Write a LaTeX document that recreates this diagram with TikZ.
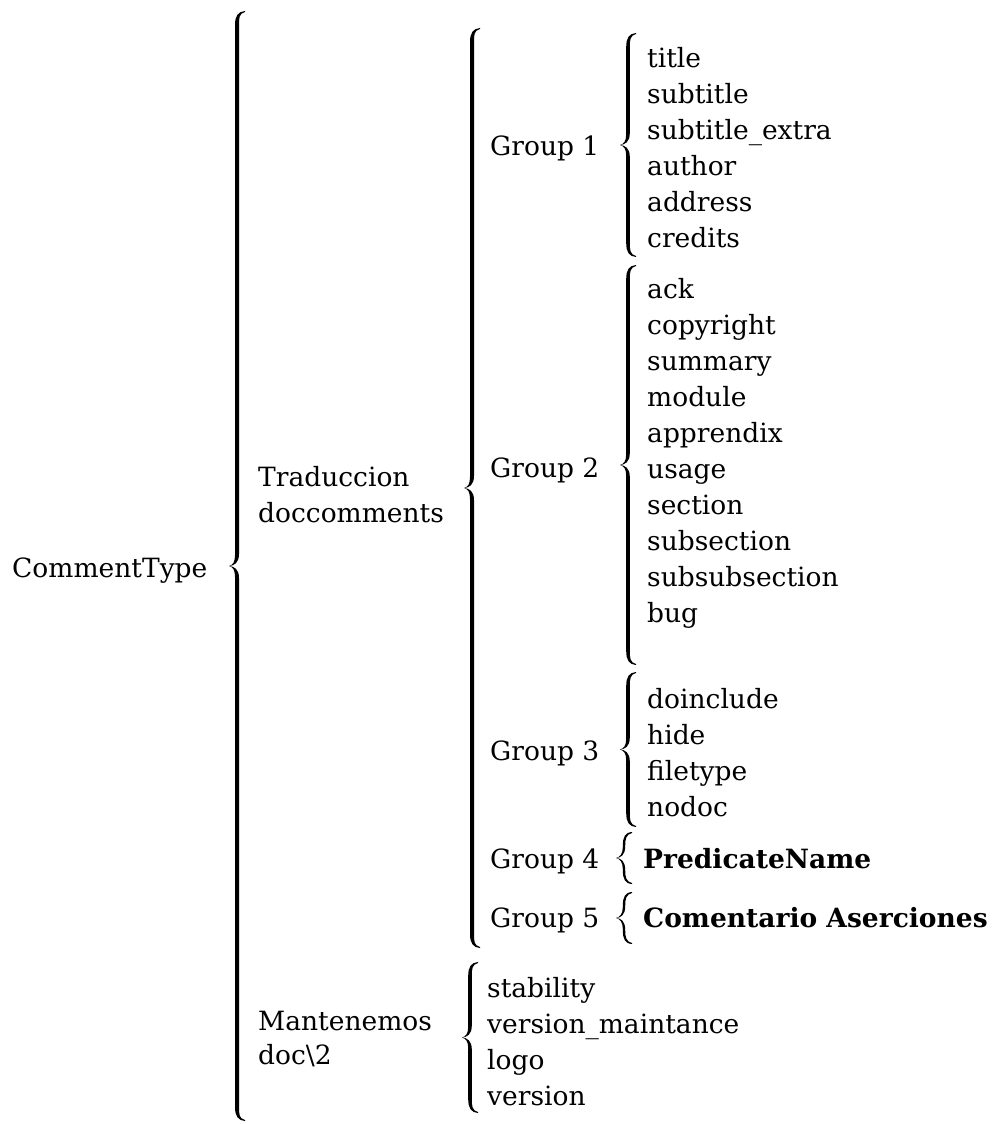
\documentclass[tikz,border=0pt]{standalone}
\usepackage{fontspec}
\setmainfont{DejaVu Serif}
\tikzset{
  lbl/.style={anchor=base west, inner sep=0pt, font=\fontsize{26.5}{36}\selectfont},
  strong/.style={lbl, font=\fontsize{26.5}{36}\selectfont\bfseries},
}
% filled curly brace: #1 name of its tip, #2 stem x, #3 top y, #4 bottom y, #5 half stem width
\newcommand\curly[5]{%
  \pgfmathsetmacro\hh{(#4-#3)/2}%
  \pgfmathsetmacro\mm{(#4+#3)/2}%
  \pgfmathsetmacro\kk{min(14,\hh-11)}%
  \begin{scope}[shift={(#2,\mm)}]
    \fill (8,-\hh) .. controls (1,-\hh+0.5) and (-#5,-\hh+5) .. (-#5,-\hh+\kk)
      -- (-#5,-11) .. controls (-#5,-4) and (-4,-1) .. (-8,0)
      .. controls (-4,1) and (-#5,4) .. (-#5,11)
      -- (-#5,\hh-\kk) .. controls (-#5,\hh-5) and (1,\hh-0.5) .. (8,\hh)
      -- (8,\hh-0.9) .. controls (2,\hh-2.5) and (#5,\hh-7) .. (#5,\hh-\kk)
      -- (#5,12) .. controls (#5,3) and (-3,0.3) .. (-8,0)
      .. controls (-3,-0.3) and (#5,-3) .. (#5,-12)
      -- (#5,-\hh+\kk) .. controls (#5,-\hh+7) and (2,-\hh+2.5) .. (8,-\hh+0.9) -- cycle;
    \coordinate (#1) at (-8,0);
  \end{scope}}
\begin{document}
\begin{tikzpicture}[x=1pt,y=-1pt]
\useasboundingbox (0,0) rectangle (996,1124);

% level 0
\node[lbl] (root) at (12,577) {CommentType};
\curly{b0}{237}{11}{1121}{2}

% level 1
\node[lbl] (trad1) at (258,486) {Traduccion};
\node[lbl] (trad2) at (258,522) {doccomments};
\curly{b1}{472}{28}{948}{2}
\node[lbl] (mant1) at (258,1030) {Mantenemos};
\node[lbl] (mant2) at (258,1064) {doc\textbackslash 2};
\curly{b2}{470}{962}{1113}{1.8}

% level 2: groups
\node[lbl] (g1) at (490,155) {Group 1};
\curly{bg1}{628}{33}{257}{1.8}
\node[lbl] (g2) at (490,477) {Group 2};
\curly{bg2}{628}{265}{665}{1.8}
\node[lbl] (g3) at (490,760) {Group 3};
\curly{bg3}{628}{672}{827}{1.8}
\node[lbl] (g4) at (490,868) {Group 4};
\curly{bg4}{624}{832}{884}{1.2}
\node[lbl] (g5) at (490,927) {Group 5};
\curly{bg5}{624}{892}{944}{1.2}

% leaves
\foreach \t [count=\i] in {title,subtitle,subtitle\_extra,author,address,credits}
  \node[lbl] (a\i) at (647,31+36*\i) {\t};
\foreach \t [count=\i] in {ack,copyright,summary,module,apprendix,usage,section,subsection,subsubsection,bug}
  \node[lbl] (c\i) at (647,262+36*\i) {\t};
\foreach \t [count=\i] in {doinclude,hide,filetype,nodoc}
  \node[lbl] (d\i) at (647,672+36*\i) {\t};
\node[strong] (pn) at (643,868) {PredicateName};
\node[strong] (ca) at (643,927) {Comentario Aserciones};
\foreach \t [count=\i] in {stability,version\_maintance,logo,version}
  \node[lbl] (m\i) at (487,961+36*\i) {\t};
\end{tikzpicture}
\end{document}
